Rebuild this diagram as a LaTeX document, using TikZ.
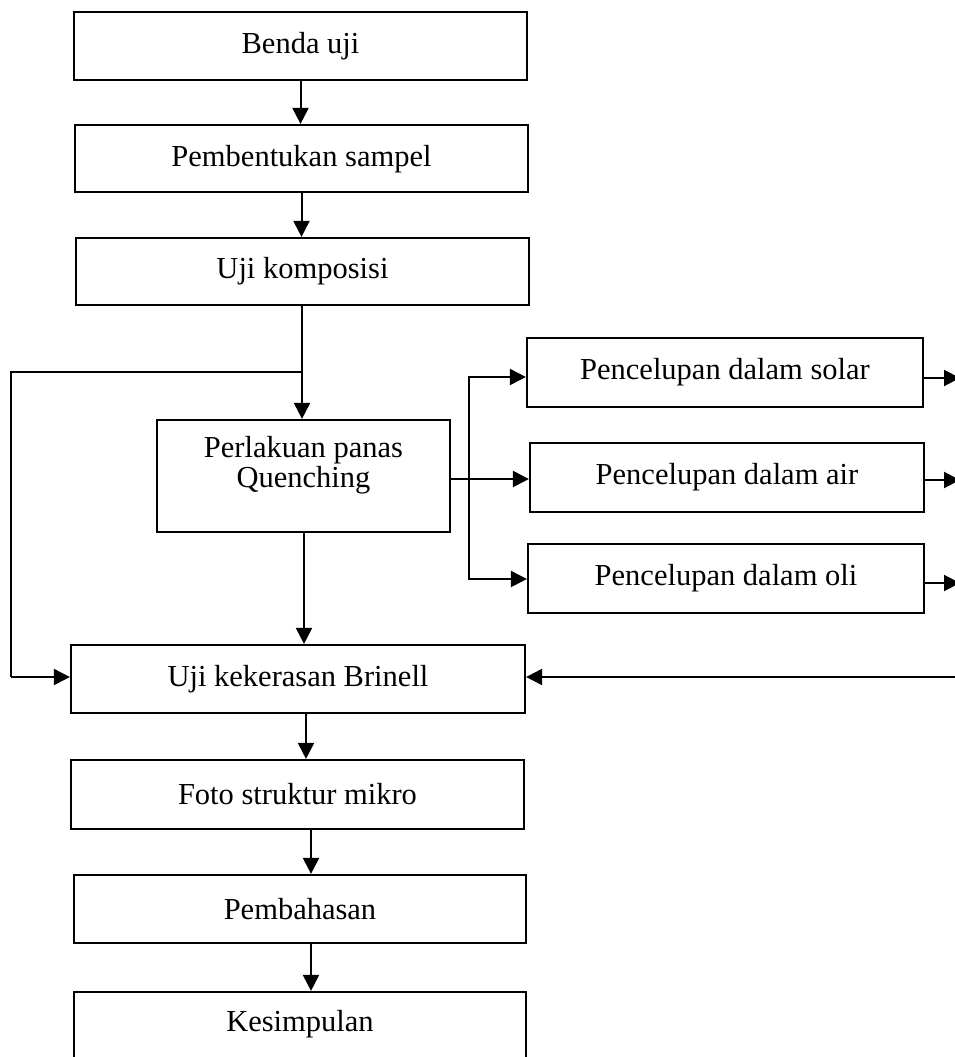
\documentclass[tikz,border=0pt]{standalone}
\usepackage{fontspec}
\setmainfont{Liberation Serif}
\usetikzlibrary{arrows.meta}
\begin{document}
\begin{tikzpicture}[x=1pt,y=-1pt,
  every node/.style={font=\fontsize{30.5}{30}\selectfont},
  box/.style={draw=black, line width=2.2pt, rectangle, inner sep=0pt},
  lbl/.style={inner sep=0pt, align=center},
  conn/.style={line width=2pt},
  arr/.style={line width=2pt, -{Triangle[length=16pt,width=16pt]}}]
\useasboundingbox (0,0) rectangle (955,1057);
% left column boxes
\node[box, minimum width=453pt, minimum height=68pt] (b1) at (300.5,46) {};
\node[lbl] (t1) at (300.5,46) {Benda uji};
\node[box, minimum width=453pt, minimum height=67pt] (b2) at (301.5,158.5) {};
\node[lbl] (t2) at (301.5,159) {Pembentukan sampel};
\node[box, minimum width=453pt, minimum height=67pt] (b3) at (302.5,271.5) {};
\node[lbl] (t3) at (302.5,271) {Uji komposisi};
\node[box, minimum width=293pt, minimum height=112pt] (pq) at (303.5,476) {};
\node[lbl] (tpq) at (303.5,465) {Perlakuan panas\\Quenching};
\node[box, minimum width=454pt, minimum height=68pt] (uk) at (298,679) {};
\node[lbl] (tuk) at (298,679) {Uji kekerasan Brinell};
\node[box, minimum width=453pt, minimum height=69pt] (foto) at (297.5,794.5) {};
\node[lbl] (tfoto) at (297.5,794) {Foto struktur mikro};
\node[box, minimum width=452pt, minimum height=68pt] (pem) at (300,909) {};
\node[lbl] (tpem) at (300,909) {Pembahasan};
\node[box, minimum width=452pt, minimum height=68pt] (kes) at (300,1026) {};
\node[lbl] (tkes) at (300,1024) {Kesimpulan};
% right boxes
\node[box, minimum width=396pt, minimum height=69pt] (solar) at (725,372.5) {};
\node[lbl] (tsolar) at (725,372) {Pencelupan dalam solar};
\node[box, minimum width=394pt, minimum height=69pt] (air) at (727,477.5) {};
\node[lbl] (tair) at (727,477) {Pencelupan dalam air};
\node[box, minimum width=396pt, minimum height=69pt] (oli) at (726,578.5) {};
\node[lbl] (toli) at (726,578) {Pencelupan dalam oli};
% coordinates
\coordinate (split) at (302,372);
\coordinate (lc1) at (11,372);
\coordinate (lc2) at (11,677);
\coordinate (br) at (469,479);
\coordinate (rs) at (960,378);
\coordinate (ra) at (960,480);
\coordinate (ro) at (960,583);
\coordinate (ret) at (957,677);
% connectors
\draw[arr] (b1.south) -- (b1.south |- b2.north);
\draw[arr] (b2.south) -- (b2.south |- b3.north);
\draw[arr] (split |- b3.south) -- (split |- pq.north);
\draw[conn] (split) -- (lc1) -- (lc2);
\draw[arr] (lc2) -- (uk.west |- lc2);
\draw[arr] (pq.south -| 304,0) -- (uk.north -| 304,0);
\draw[conn] (pq.east |- br) -- (br);
\draw[arr] (br) -- (air.west |- br);
\draw[arr] (br) |- (solar.west |- 0,377);
\draw[arr] (br) |- (oli.west |- 0,579);
\draw[arr] (solar.east |- rs) -- (rs);
\draw[arr] (air.east |- ra) -- (ra);
\draw[arr] (oli.east |- ro) -- (ro);
\draw[arr] (ret) -- (uk.east |- ret);
\draw[arr] (uk.south -| 306,0) -- (foto.north -| 306,0);
\draw[arr] (foto.south -| 311,0) -- (pem.north -| 311,0);
\draw[arr] (pem.south -| 311,0) -- (kes.north -| 311,0);
\end{tikzpicture}
\end{document}
